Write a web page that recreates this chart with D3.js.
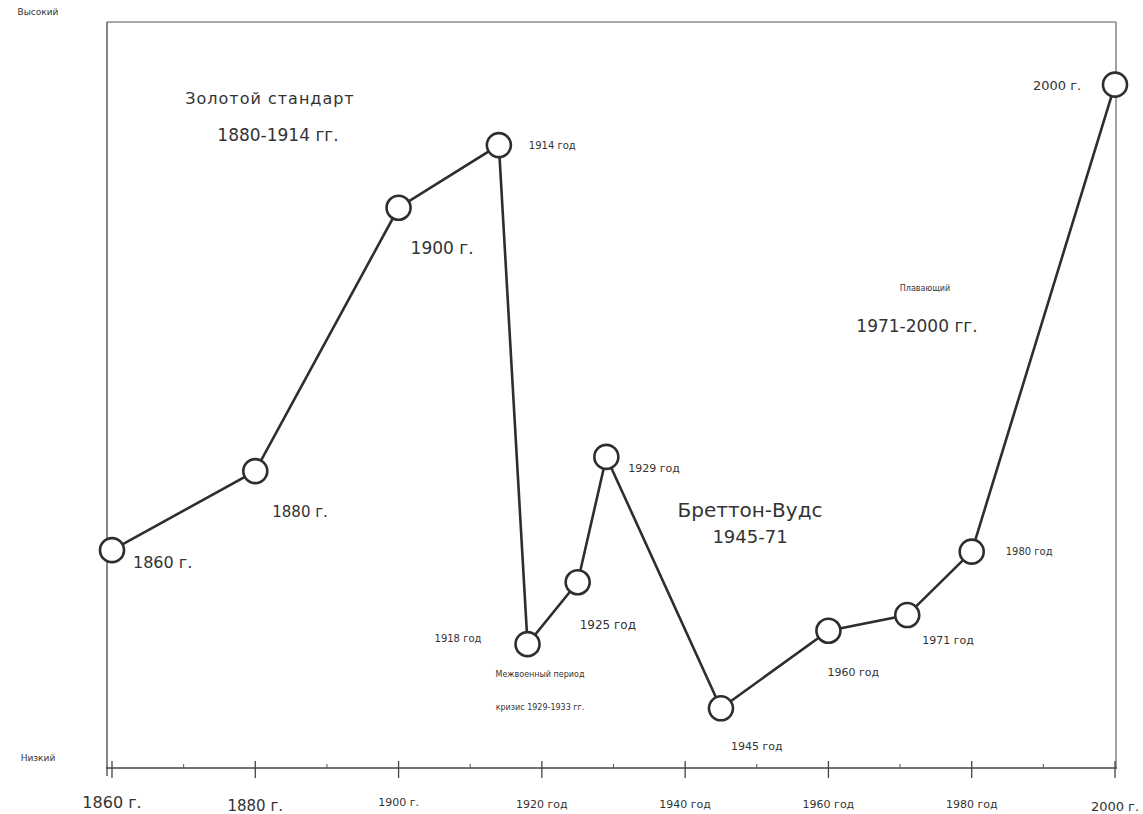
<!DOCTYPE html>
<html><head><meta charset="utf-8">
<script src="https://cdn.jsdelivr.net/npm/d3@7"></script>
<style>body{margin:0;background:#fff}svg{display:block}text{font-family:"DejaVu Sans",sans-serif;fill:#333}</style>
</head><body>
<script>
const years = [1860, 1880, 1900, 1914, 1918, 1925, 1929, 1945, 1960, 1971, 1980, 2000];
const values = [29.2, 39.8, 75.1, 83.5, 16.6, 24.9, 41.7, 8.0, 18.4, 20.5, 29.0, 91.6];
const pointLabels = ["1860 г.", "1880 г.", "1900 г.", "1914 год", "1918 год", "1925 год", "1929 год", "1945 год", "1960 год", "1971 год", "1980 год", "2000 г."];
const labelDx = [21, 17, 12, 30, -93, 2, 22, 10, -1, 15, 34, -82];
const labelDy = [12, 41, 40, 0, -6, 43, 11, 38, 41, 25, 0, 1];
const labelSize = [16, 15, 17, 10, 10, 12, 11, 11, 11, 11, 10, 13];
const tickYears = [1860, 1880, 1900, 1920, 1940, 1960, 1980, 2000];
const tickLabels = ["1860 г.", "1880 г.", "1900 г.", "1920 год", "1940 год", "1960 год", "1980 год", "2000 г."];
const tickSize = [16, 15, 11, 11, 11, 11, 11, 13];
const tickDy = [0, 3, -2, 0, 0, 0, 0, 3];
const minorYears = [1870, 1890, 1910, 1930, 1950, 1970, 1990];
const yLabels = ["Низкий", "Высокий"];

const W = 1143, H = 814;
const svg = d3.select("body").append("svg").attr("width", W).attr("height", H);
const x = d3.scaleLinear().domain([1860, 2000]).range([112, 1115]);
const y = d3.scaleLinear().domain([0, 100]).range([768, 22]);

const ink = "#2e2e2e";
svg.append("line").attr("x1", 107).attr("x2", 107).attr("y1", 22).attr("y2", 776).attr("stroke", "#444").attr("stroke-width", 1.3);
svg.append("line").attr("x1", 107).attr("x2", 1116).attr("y1", 22).attr("y2", 22).attr("stroke", "#555").attr("stroke-width", 1.1);
svg.append("line").attr("x1", 1116).attr("x2", 1116).attr("y1", 22).attr("y2", 768).attr("stroke", "#555").attr("stroke-width", 1.1);

const xAxis = d3.axisBottom(x).tickValues(tickYears).tickSize(0).tickFormat("");
const ax = svg.append("g").attr("transform", `translate(0,${y(0)})`).call(xAxis);
ax.select(".domain").attr("stroke", "#444").attr("stroke-width", 1.4).attr("d", `M${x(1860)-6},0H${x(2000)+2}`);
svg.selectAll(".major").data(tickYears).enter().append("line")
  .attr("x1", d => x(d)).attr("x2", d => x(d)).attr("y1", y(0) - 7).attr("y2", y(0) + 10)
  .attr("stroke", "#444").attr("stroke-width", 1.3);
svg.selectAll(".minor").data(minorYears).enter().append("line")
  .attr("x1", d => x(d)).attr("x2", d => x(d)).attr("y1", y(0) - 4).attr("y2", y(0))
  .attr("stroke", "#555").attr("stroke-width", 1);
svg.selectAll(".tl").data(tickYears).enter().append("text")
  .attr("x", d => x(d)).attr("y", (d, i) => y(0) + 40 + tickDy[i])
  .attr("text-anchor", "middle").attr("font-size", (d, i) => tickSize[i])
  .text((d, i) => tickLabels[i]);

svg.append("text").attr("x", 38).attr("y", 761).attr("text-anchor", "middle").attr("font-size", 9).text(yLabels[0]);
svg.append("text").attr("x", 38).attr("y", 15).attr("text-anchor", "middle").attr("font-size", 9).text(yLabels[1]);

const data = years.map((yr, i) => ({yr, v: values[i], lab: pointLabels[i], i}));
svg.append("path").datum(data)
  .attr("d", d3.line().x(d => x(d.yr)).y(d => y(d.v)))
  .attr("fill", "none").attr("stroke", ink).attr("stroke-width", 2.6);
svg.selectAll(".pt").data(data).enter().append("circle")
  .attr("cx", d => x(d.yr)).attr("cy", d => y(d.v)).attr("r", 12)
  .attr("fill", "#fff").attr("stroke", ink).attr("stroke-width", 2.6);
svg.selectAll(".pl").data(data).enter().append("text")
  .attr("x", d => x(d.yr) + labelDx[d.i]).attr("y", d => y(d.v) + labelDy[d.i] + labelSize[d.i] * 0.35)
  .attr("font-size", d => labelSize[d.i]).text(d => d.lab);

const ann = [
  {t: "Золотой стандарт", x: 270, y: 104, s: 16, ls: 1},
  {t: "1880-1914 гг.", x: 278, y: 141, s: 17, ls: 0},
  {t: "Бреттон-Вудс", x: 750, y: 517, s: 20, ls: 0},
  {t: "1945-71", x: 750, y: 543, s: 18, ls: 0},
  {t: "Плавающий", x: 925, y: 291, s: 8, ls: 0},
  {t: "1971-2000 гг.", x: 917, y: 332, s: 17, ls: 0},
  {t: "Межвоенный период", x: 540, y: 677, s: 8, ls: 0},
  {t: "кризис 1929-1933 гг.", x: 540, y: 710, s: 8, ls: 0}
];
svg.selectAll(".ann").data(ann).enter().append("text")
  .attr("x", d => d.x).attr("y", d => d.y).attr("text-anchor", "middle")
  .attr("letter-spacing", d => d.ls)
  .attr("font-size", d => d.s).text(d => d.t);
</script>
</body></html>
